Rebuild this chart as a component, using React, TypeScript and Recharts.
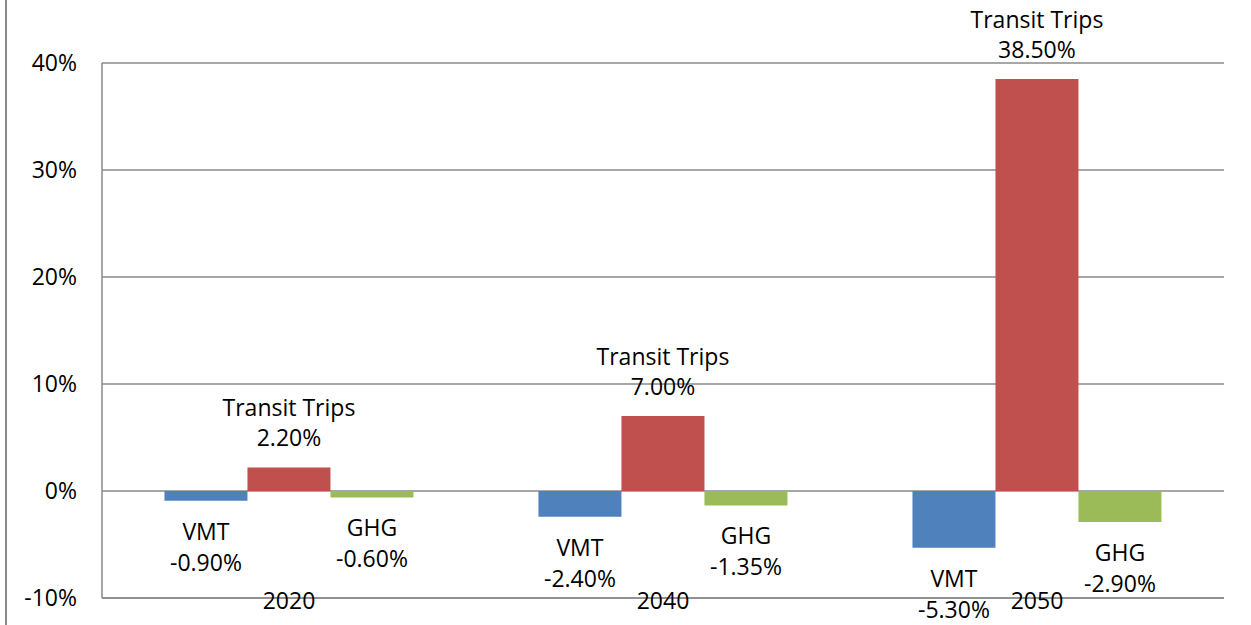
import React from "react";
import { Bar, BarChart, CartesianGrid, LabelList, XAxis, YAxis } from "recharts";

const years = ["2020", "2040", "2050"];
const vmt = [-0.9, -2.4, -5.3];
const transitTrips = [2.2, 7.0, 38.5];
const ghg = [-0.6, -1.35, -2.9];
const yTicks = [-10, 0, 10, 20, 30, 40];

const font = "'Open Sans', sans-serif";
const grid = "#8a8a8a";

const data = years.map((year, i) => ({
  year,
  vmt: vmt[i],
  transit: transitTrips[i],
  ghg: ghg[i],
}));

const makeLabel = (name: string) => (props: any) => {
  const { x, y, width, height, value } = props;
  const top = Math.min(y, y + height);
  const bottom = Math.max(y, y + height);
  const cx = x + width / 2;
  const text = `${Number(value).toFixed(2)}%`;
  if (value >= 0) {
    return (
      <g>
        <text x={cx} y={top - 60} textAnchor="middle" dominantBaseline="central" fontSize={23} fontFamily={font} fill="#000">
          {name}
        </text>
        <text x={cx} y={top - 30} textAnchor="middle" dominantBaseline="central" fontSize={23} fontFamily={font} fill="#000">
          {text}
        </text>
      </g>
    );
  }
  return (
    <g>
      <text x={cx} y={bottom + 30} textAnchor="middle" dominantBaseline="central" fontSize={23} fontFamily={font} fill="#000">
        {name}
      </text>
      <text x={cx} y={bottom + 61} textAnchor="middle" dominantBaseline="central" fontSize={23} fontFamily={font} fill="#000">
        {text}
      </text>
    </g>
  );
};

const YearTick = (props: any) => {
  const { x, y, payload } = props;
  return (
    <text x={x} y={y + 2} textAnchor="middle" dominantBaseline="central" fontSize={23} fontFamily={font} fill="#000">
      {payload.value}
    </text>
  );
};

export default function App() {
  return (
    <div style={{ position: "absolute", left: 0, top: 0, width: 1251, height: 625, background: "#fff" }}>
      <div style={{ position: "absolute", left: 5, top: 0, width: 0, height: 625, borderLeft: `2px solid ${grid}` }} />
      <BarChart
        width={1251}
        height={625}
        data={data}
        margin={{ top: 63, right: 27, bottom: 0, left: 0 }}
        barCategoryGap="16.7%"
        barGap={0}
      >
        <CartesianGrid vertical={false} stroke={grid} strokeWidth={1.5} />
        <XAxis
          dataKey="year"
          height={27}
          tickSize={0}
          tickMargin={0}
          axisLine={{ stroke: grid, strokeWidth: 1.5 }}
          tick={<YearTick />}
        />
        <YAxis
          width={102}
          domain={[-10, 40]}
          ticks={yTicks}
          tickFormatter={(v) => `${v}%`}
          tickSize={0}
          tickMargin={25}
          axisLine={{ stroke: grid, strokeWidth: 1.5 }}
          tick={{ fill: "#000", fontSize: 23, fontFamily: font }}
        />
        <Bar dataKey="vmt" fill="#4F81BD" isAnimationActive={false}>
          <LabelList dataKey="vmt" content={makeLabel("VMT")} />
        </Bar>
        <Bar dataKey="transit" fill="#C0504D" isAnimationActive={false}>
          <LabelList dataKey="transit" content={makeLabel("Transit Trips")} />
        </Bar>
        <Bar dataKey="ghg" fill="#9BBB59" isAnimationActive={false}>
          <LabelList dataKey="ghg" content={makeLabel("GHG")} />
        </Bar>
      </BarChart>
    </div>
  );
}
